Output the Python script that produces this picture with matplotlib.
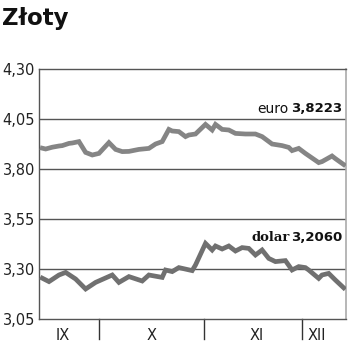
import matplotlib.pyplot as plt
import matplotlib.transforms as mtransforms

# dni (liczone od 1 IX) i kursy
euro_days = [13, 14, 16, 18, 19, 21, 22, 24, 26, 28, 30, 33, 35, 37, 39, 42, 45, 47, 49,
             51, 52, 54, 56, 57, 59, 62, 64, 65, 67, 69, 71, 74, 75, 77, 79, 82, 85, 87,
             88, 90, 92, 96, 97, 100, 101, 103.5]
euro_vals = [3.904, 3.900, 3.909, 3.915, 3.917, 3.928, 3.930, 3.937, 3.883, 3.870, 3.878,
             3.932, 3.898, 3.887, 3.888, 3.898, 3.903, 3.925, 3.937, 3.998, 3.990, 3.987,
             3.962, 3.970, 3.975, 4.023, 3.995, 4.023, 3.998, 3.995, 3.978, 3.975, 3.975,
             3.975, 3.962, 3.925, 3.917, 3.908, 3.892, 3.903, 3.878, 3.832, 3.837, 3.865,
             3.852, 3.8223]

usd_days = [13, 15, 18, 20, 23, 26, 29, 34, 36, 39, 43, 45, 49, 50, 52, 54, 58, 59, 62,
            64, 65, 67, 69, 71, 73, 75, 77, 79, 81, 83, 86, 88, 90, 92, 93, 96, 97, 99,
            101, 103.5]
usd_vals = [3.254, 3.237, 3.270, 3.283, 3.250, 3.200, 3.233, 3.270, 3.233, 3.262, 3.240,
            3.270, 3.258, 3.295, 3.287, 3.307, 3.292, 3.320, 3.428, 3.395, 3.415, 3.400,
            3.415, 3.390, 3.407, 3.403, 3.370, 3.395, 3.353, 3.337, 3.342, 3.295, 3.312,
            3.307, 3.295, 3.253, 3.270, 3.278, 3.245, 3.206]

yticks = [3.05, 3.30, 3.55, 3.80, 4.05, 4.30]
ytick_labels = ['3,05', '3,30', '3,55', '3,80', '4,05', '4,30']
month_bounds = [30, 61.5, 91]
month_names = ['IX', 'X', 'XI', 'XII']
month_pos = [19, 45.7, 77.5, 95.5]

fig = plt.figure(figsize=(3.5, 3.51), dpi=100)
ax = fig.add_axes([39 / 350, 32 / 351, 307 / 350, 250 / 351])

ax.plot(euro_days, euro_vals, color='#858585', lw=3.4, solid_joinstyle='miter', zorder=3)
ax.plot(usd_days, usd_vals, color='#707070', lw=3.4, solid_joinstyle='miter', zorder=3)

ax.set_xlim(12, 104.2)
ax.set_ylim(3.05, 4.30)
ax.set_yticks(yticks)
ax.set_yticklabels(ytick_labels, fontsize=10.5, color='#222222')
ax.set_xticks([])
ax.tick_params(axis='y', length=0, pad=3)

for y in yticks[1:-1]:
    ax.axhline(y, color='#555555', lw=1, zorder=1)

for s in ['left', 'top', 'bottom']:
    ax.spines[s].set_color('#555555')
    ax.spines[s].set_linewidth(1)
ax.spines['right'].set_color('#aaaaaa')
ax.spines['right'].set_linewidth(1.2)

# podzialki miesiecy
trans = mtransforms.blended_transform_factory(ax.transData, ax.transAxes)
for b in month_bounds:
    ax.plot([b, b], [0, -0.08], transform=trans, color='#333333', lw=1, clip_on=False)
for p, name in zip(month_pos, month_names):
    ax.text(p, -0.064, name, transform=trans, ha='center', va='center',
            fontsize=10.5, color='#222222')

# etykiety kursow
ax.text(0.814, 0.84, 'euro', transform=ax.transAxes, ha='right', va='center',
        fontsize=10, color='#111111')
ax.text(0.987, 0.84, '3,8223', transform=ax.transAxes, ha='right', va='center',
        fontsize=9.5, fontweight='bold', color='#111111')
ax.text(0.818, 0.327, 'dolar', transform=ax.transAxes, ha='right', va='center',
        fontsize=9.5, color='#111111', family='DejaVu Serif', fontweight='bold')
ax.text(0.987, 0.327, '3,2060', transform=ax.transAxes, ha='right', va='center',
        fontsize=9.5, fontweight='bold', color='#111111')

fig.text(2 / 350, 1 - 18 / 351, 'Złoty', ha='left', va='center', fontsize=16.5,
         fontweight='bold', color='#111111')

fig.savefig('out.png', dpi=100)
